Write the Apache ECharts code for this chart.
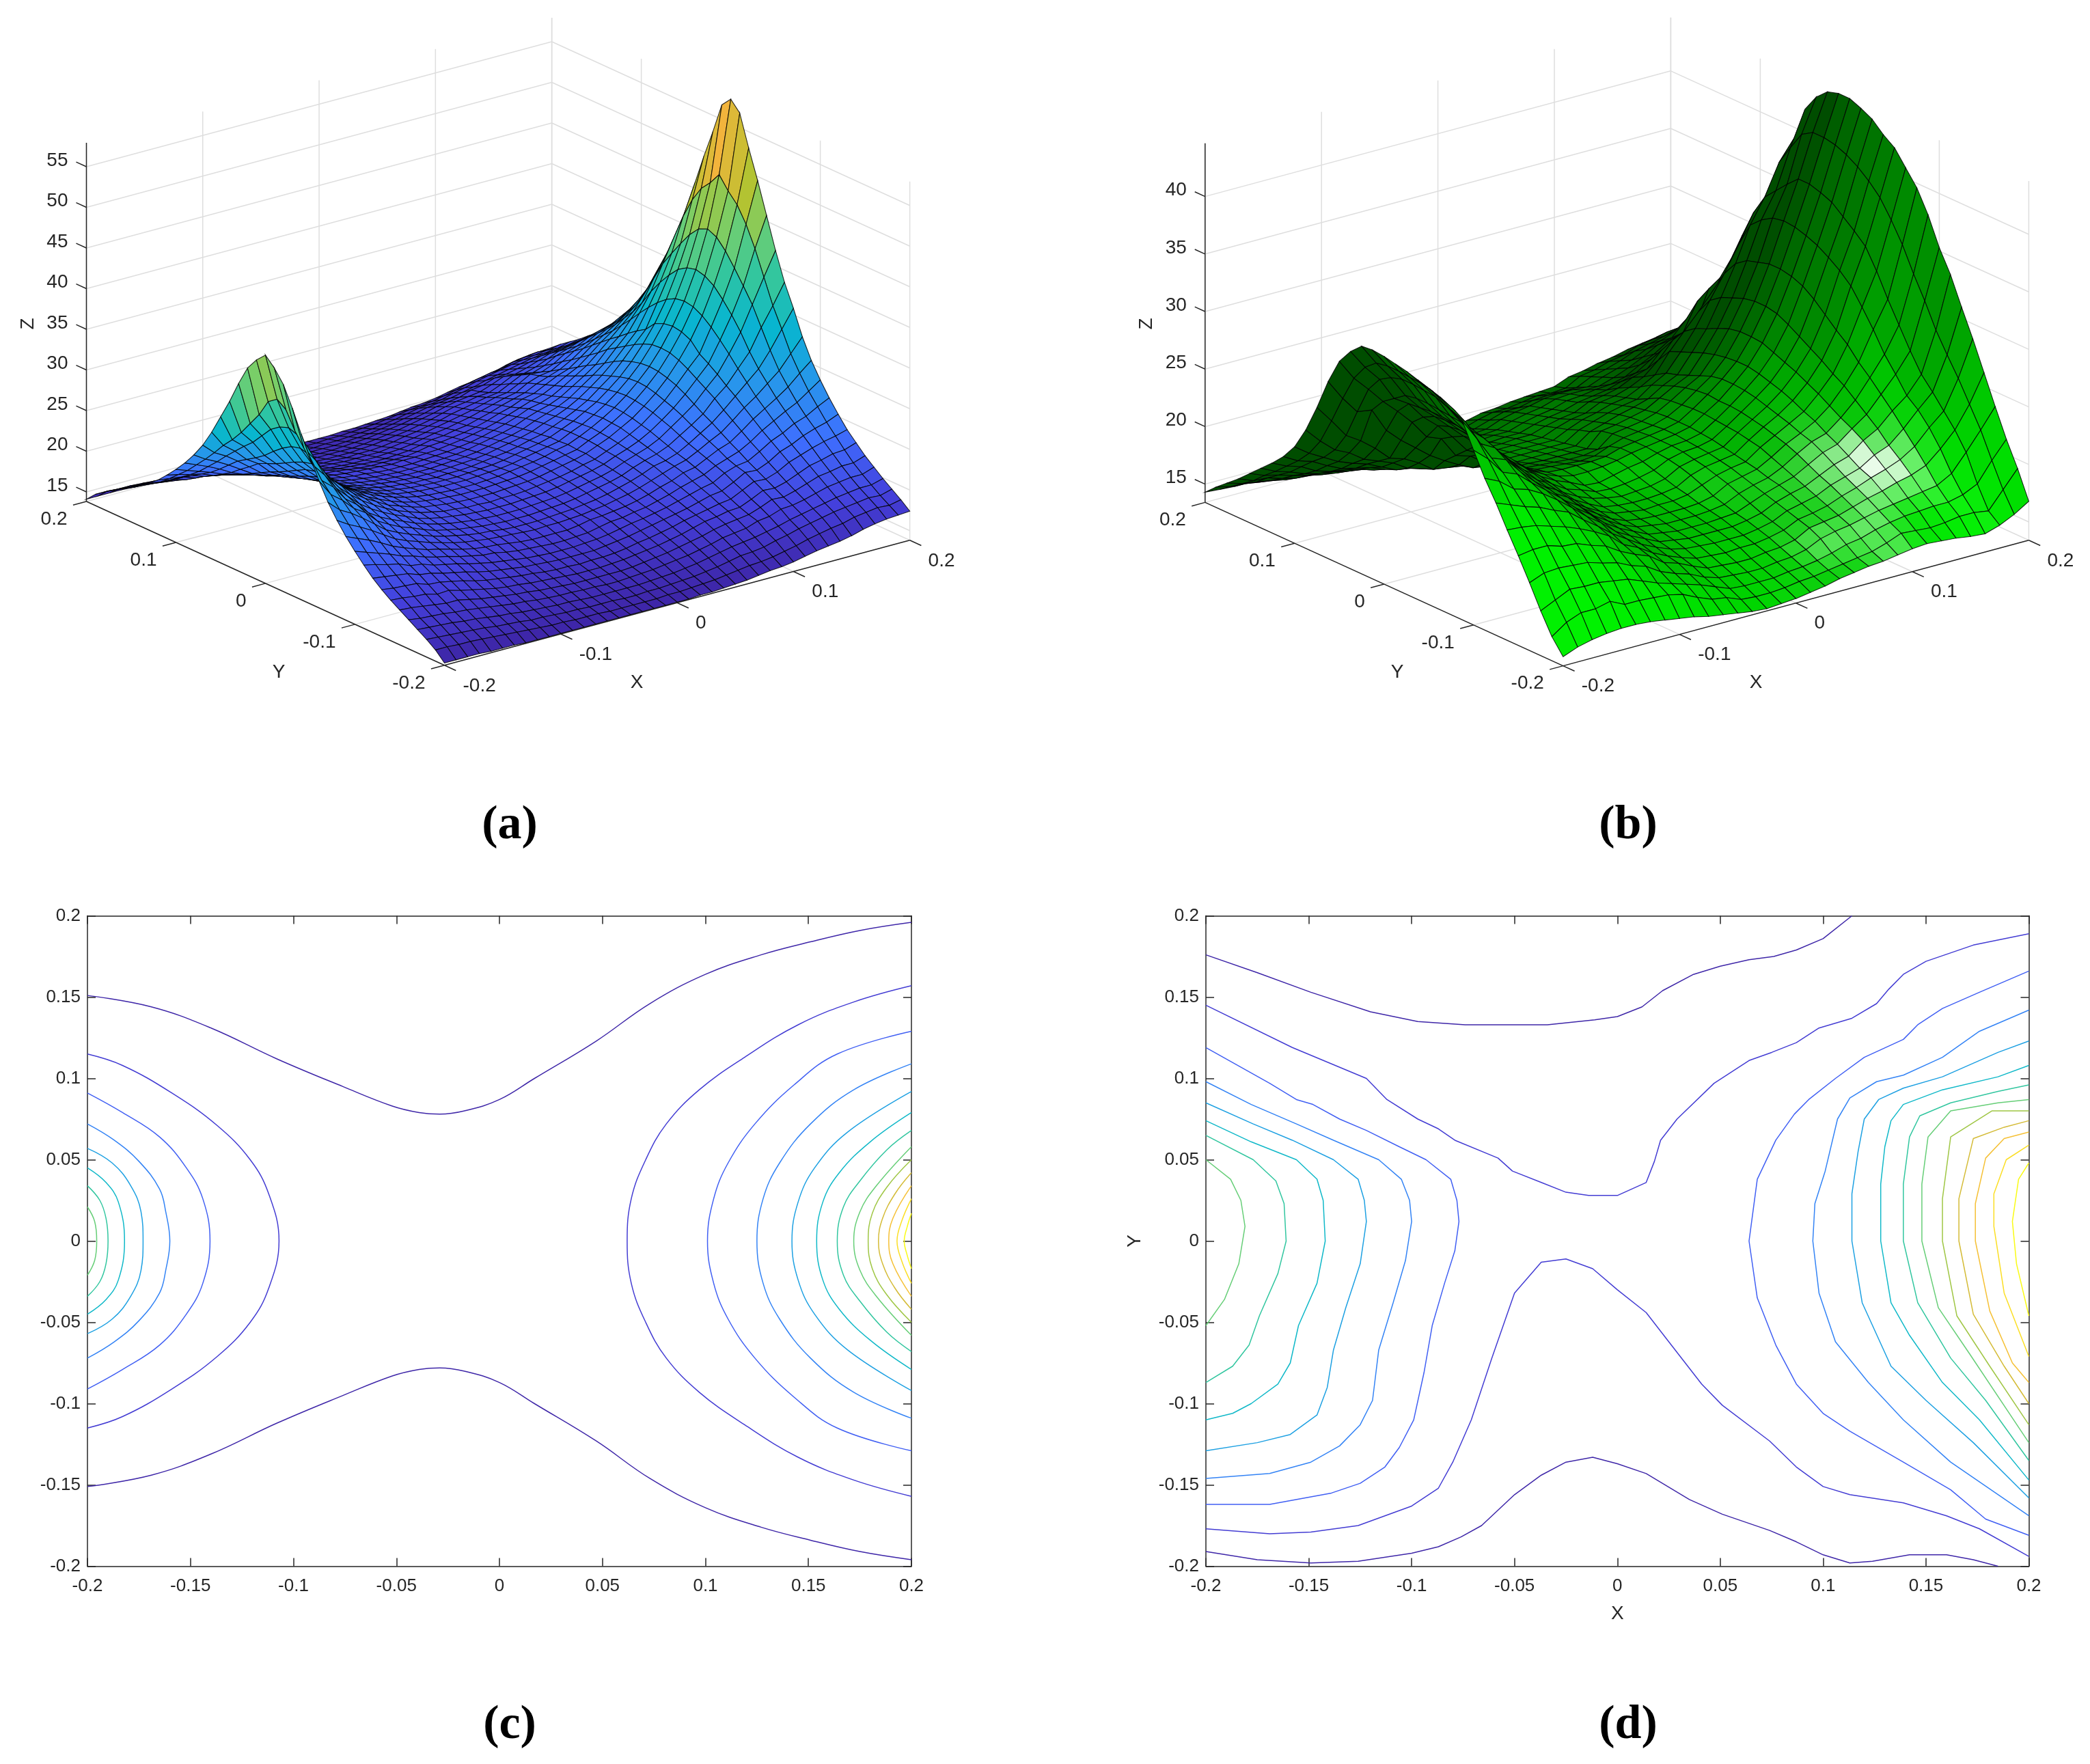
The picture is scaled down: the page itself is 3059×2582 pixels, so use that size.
<!DOCTYPE html>
<html>
<head>
<meta charset="utf-8">
<title>surface and contour panels</title>
<script src="https://cdn.jsdelivr.net/npm/echarts@6/dist/echarts.min.js"></script>
<style>
  html, body { margin: 0; background: #fff; }
  #chart { width: 3059px; height: 2582px; }
</style>
</head>
<body>
<div id="chart"></div>
<script>
// ticks
const meshTicks = [-0.2, -0.1, 0, 0.1, 0.2];
const zTicksA = [15, 20, 25, 30, 35, 40, 45, 50, 55];
const zTicksB = [15, 20, 25, 30, 35, 40];
const planTicks = [-0.2, -0.15, -0.1, -0.05, 0, 0.05, 0.1, 0.15, 0.2];

// panel (a): height read per X column (-0.2 .. 0.2, step 0.01), for |Y| = 0 .. 0.2 step 0.01
const surfaceA = [
  [41.9,40.8,39.3,36.9,34.2,31.8,29.4,27.3,25.6,24.1,22.8,21.6,20.5,19.6,18.8,18.1,17.4,16.7,16,15.2,14.1],
  [36.1,35.3,33.2,31.6,30,28.6,27.4,26,24.7,23.5,22.3,21.3,20.3,19.4,18.7,18,17.2,16.6,15.9,15.2,14.1],
  [32.2,31.8,31,29.7,28.4,27.4,26.3,25.2,24,22.9,21.8,20.9,20.1,19.3,18.5,17.8,17.1,16.5,15.8,15.1,14.1],
  [29.3,29,28.3,27.4,26.4,25.6,24.9,24.2,23.2,22.2,21.3,20.6,19.9,19.2,18.4,17.6,17,16.4,15.7,15.1,14.1],
  [27,26.7,26.2,25.6,25,24.5,24,23.1,22.3,21.4,20.7,20,19.4,18.7,18,17.4,16.8,16.2,15.6,15,14],
  [25.4,25.2,24.9,24.3,23.7,23.1,22.6,22,21.4,20.8,20.3,19.8,19.2,18.6,18.1,17.4,16.7,16.1,15.5,14.9,14],
  [24,23.9,23.6,23.2,22.7,22.2,21.8,21.3,20.8,20.3,19.8,19.3,18.8,18.3,17.7,17.1,16.5,15.9,15.3,14.8,14],
  [22.9,22.8,22.6,22.3,21.9,21.5,21.1,20.7,20.3,19.8,19.4,19,18.5,18,17.4,16.8,16.3,15.7,15.2,14.7,13.9],
  [22,21.9,21.8,21.5,21.2,20.9,20.6,20.2,19.8,19.5,19.1,18.7,18.2,17.6,17.1,16.6,16.1,15.6,15.1,14.6,13.9],
  [21.3,21.2,21,20.8,20.6,20.3,20,19.7,19.4,19.1,18.7,18.3,17.8,17.3,16.8,16.4,15.9,15.4,14.9,14.5,13.9],
  [20.7,20.6,20.5,20.3,20,19.8,19.5,19.3,19,18.7,18.4,18,17.5,17.1,16.6,16.2,15.8,15.3,14.9,14.4,13.9],
  [20.2,20.1,20,19.8,19.6,19.4,19.2,19,18.7,18.4,18.1,17.7,17.3,16.9,16.5,16.1,15.6,15.2,14.8,14.4,13.9],
  [19.8,19.7,19.6,19.5,19.3,19.1,18.9,18.7,18.5,18.2,18,17.5,17.1,16.7,16.3,15.9,15.5,15.1,14.7,14.3,13.9],
  [19.5,19.5,19.4,19.2,19.1,18.9,18.7,18.5,18.3,18.1,17.7,17.3,16.9,16.6,16.2,15.8,15.4,15.1,14.7,14.3,13.9],
  [19.3,19.3,19.2,19.1,18.9,18.7,18.5,18.4,18.2,17.9,17.5,17.1,16.8,16.4,16.1,15.7,15.4,15,14.6,14.3,13.9],
  [19.2,19.2,19.1,18.9,18.8,18.6,18.4,18.2,18.1,17.7,17.4,17,16.7,16.3,16,15.6,15.3,14.9,14.6,14.2,13.9],
  [19.1,19.1,19,18.9,18.7,18.5,18.3,18.1,18,17.6,17.3,16.9,16.6,16.3,15.9,15.6,15.3,14.9,14.6,14.2,13.9],
  [19.1,19.1,19,18.8,18.7,18.5,18.3,18.1,17.9,17.6,17.2,16.9,16.6,16.2,15.9,15.6,15.2,14.9,14.5,14.2,13.9],
  [19.1,19.1,19,18.9,18.7,18.5,18.3,18.1,18,17.6,17.2,16.9,16.6,16.3,15.9,15.6,15.2,14.9,14.5,14.2,13.9],
  [19.2,19.2,19.1,18.9,18.8,18.6,18.4,18.2,18,17.6,17.3,17,16.6,16.3,16,15.6,15.3,14.9,14.6,14.2,13.9],
  [19.3,19.3,19.2,19,18.9,18.7,18.5,18.3,18.1,17.8,17.4,17.1,16.8,16.4,16.1,15.7,15.4,15,14.6,14.3,13.9],
  [19.5,19.4,19.3,19.2,19,18.8,18.6,18.4,18.2,18.1,17.7,17.3,17,16.6,16.3,15.9,15.5,15.1,14.7,14.3,13.9],
  [19.7,19.6,19.5,19.4,19.2,19,18.8,18.6,18.4,18.2,18,17.6,17.2,16.9,16.5,16.1,15.7,15.2,14.8,14.4,14],
  [19.9,19.9,19.8,19.6,19.5,19.3,19.1,18.8,18.6,18.4,18.1,17.9,17.5,17.1,16.7,16.3,15.9,15.4,14.9,14.5,14],
  [20.2,20.2,20.1,19.9,19.8,19.6,19.4,19.1,18.9,18.6,18.4,18.1,17.8,17.4,17,16.6,16.1,15.6,15.1,14.6,14.1],
  [20.6,20.5,20.4,20.3,20.1,19.9,19.7,19.5,19.2,18.9,18.6,18.4,18.1,17.7,17.3,16.9,16.4,15.9,15.3,14.8,14.2],
  [20.9,20.8,20.8,20.6,20.5,20.3,20.1,19.9,19.6,19.3,19,18.7,18.4,18.1,17.7,17.2,16.7,16.2,15.6,15,14.3],
  [21.5,21.5,21.4,21.2,21.1,20.9,20.7,20.4,20.1,19.8,19.4,19.1,18.7,18.4,18.1,17.6,17.1,16.5,15.9,15.2,14.5],
  [22.2,22.1,22,21.8,21.6,21.4,21.2,21,20.6,20.2,19.9,19.5,19.1,18.7,18.3,17.9,17.3,16.7,16,15.3,14.7],
  [23,22.9,22.8,22.5,22.2,21.9,21.6,21.3,21.1,20.8,20.3,19.9,19.5,19,18.6,18.1,17.5,16.9,16.2,15.5,14.8],
  [23.9,23.8,23.6,23.3,23,22.6,22.2,21.8,21.5,21.1,20.7,20.2,19.7,19.2,18.7,18.3,18,17.2,16.6,15.8,15],
  [25,24.9,24.7,24.4,24,23.6,23.1,22.6,22.2,21.8,21.4,21,20.4,19.9,19.3,18.8,18.2,17.5,16.9,16.1,15.3],
  [26.3,26.2,25.9,25.5,25.1,24.6,24,23.5,23,22.5,21.9,21.5,21.2,20.6,20,19.4,18.7,17.9,17.3,16.5,15.6],
  [27.8,27.7,27.4,27,26.4,25.7,25,24.4,23.7,23,22.4,21.7,21.1,20.5,19.9,19.3,18.8,18.2,17.6,16.8,15.8],
  [29.7,29.6,29.2,28.6,27.9,27.2,26.5,25.6,24.8,24,23.2,22.5,21.7,21,20.3,19.7,19.1,18.5,17.9,17.1,16],
  [32,31.8,31.3,30.1,29.4,28.6,27.7,26.9,26,25.1,24.2,23.4,22.6,21.8,20.9,20.2,19.5,18.8,18.2,17.3,16.3],
  [34.7,34.5,33.9,33,31.9,30.7,29.4,28.2,27,26,25,24,23.1,22.3,21.5,20.7,19.9,19.1,18.4,17.7,16.7],
  [38.2,37.9,37.2,36,34.6,33,31.1,29.5,28.2,26.9,25.8,24.8,23.8,22.8,21.8,20.9,20.1,19.3,18.6,17.9,17],
  [42.8,42.3,41.1,39.5,37.8,36,33.7,31.4,29.4,27.9,26.5,25.3,24.3,23.2,22.2,21.2,20.3,19.5,18.8,18.1,17.2],
  [49.1,47.6,46.4,44.5,42,39,36,33.6,31.1,29.2,27.5,26.1,24.7,23.5,22.3,21.2,20.3,19.5,18.7,18,17.3],
  [58,56.8,53,49.5,45.7,41.9,38.5,35.8,32.8,30.4,28.5,26.8,25.3,23.9,22.8,21.7,20.8,19.9,19.1,18.3,17.4]
];

// panel (b): height per X column (-0.2 .. 0.2, step 0.0125), Y from -0.2 to 0.2 step 0.0125
const surfaceB = [
  [14.2,15.5,17.3,19.3,21.2,23,24.9,26.6,28.6,30.7,31.2,31.9,32.2,32.5,32.8,33,33.2,33.3,33.2,32.3,31,28.8,26.1,23.7,21.8,20.5,19.5,18.6,17.7,16.8,16,15.2,14.3],
  [14.7,16.4,17.9,19.8,21.4,22.9,24.4,26,27.5,28.8,29.8,30.4,30.8,31.2,31.4,31.5,31.6,31.6,31.4,30.6,29.2,27,24.6,22.4,20.9,19.8,18.9,18,17.2,16.3,15.6,14.9,14.2],
  [15,16.9,18.5,19.9,21.4,22.7,23.9,25,26,26.8,27.6,28.4,29,29.5,29.9,30,30.1,30.1,29.8,29.2,27.9,25.5,23,21.3,20.2,19.4,18.5,17.6,16.9,16.2,15.4,14.8,14.1],
  [15.2,16.9,18.4,19.8,21,22.3,23.5,24.6,25.5,26.3,26.9,27.3,27.6,27.8,27.9,28,28.1,28.1,27.9,27.2,26.5,25.3,22.2,20.7,19.5,18.7,17.8,17.1,16.5,15.8,15.2,14.6,14.1],
  [15.3,17.2,18.4,19.7,20.9,21.9,22.9,23.9,24.4,24.9,25.4,25.6,25.8,26.1,26.3,26.5,26.6,26.6,26.5,26.4,25.3,23.2,21.2,19.8,19,18.1,17.4,16.8,16.2,15.5,14.9,14.4,14],
  [15.3,16.6,18.2,19.3,20.4,21.4,22.4,23,23.4,23.7,24.1,24.5,24.8,25,25.2,25.4,25.5,25.5,25.4,24.9,24,22,20,19.3,18.6,17.8,17.2,16.6,15.9,15.4,14.9,14.4,14],
  [15.2,16.6,18,19,20,20.8,21.4,22,22.4,22.7,23,23.3,23.5,23.7,23.9,24.1,24.3,24.3,24.2,23.8,22.4,21,19.6,18.8,18,17.5,16.9,16.3,15.7,15.3,14.8,14.4,14],
  [15,16.5,17.5,18.4,19.2,20.1,20.5,20.9,21.2,21.4,21.6,21.8,22,22.4,22.7,23,23.2,23.2,23,22.5,21.9,20,18.9,18,17.4,17,16.5,16.1,15.6,15.1,14.7,14.3,13.9],
  [14.8,16.4,17,18,18.6,19,19.5,20,20.3,20.6,20.9,21.1,21.3,21.6,21.8,22,22.1,22.1,21.9,21,20.1,19.2,18,17.6,17.2,16.9,16.4,15.9,15.4,15,14.6,14.2,13.9],
  [14.6,16.1,16.6,17.2,18.1,18.4,18.7,18.9,19.2,19.4,19.6,19.7,19.9,20.1,20.5,20.9,21,21,20.8,20.3,19.7,18.5,17.8,17.4,17,16.7,16.3,15.9,15.4,15,14.6,14.2,13.9],
  [14.3,15.5,16.2,16.7,17.2,17.6,17.9,18.2,18.4,18.6,18.8,18.9,19.1,19.3,19.6,19.8,19.9,19.9,19.7,19.3,18.8,17.9,17.6,17.3,17,16.7,16.3,15.9,15.4,15,14.6,14.2,13.8],
  [14.1,15,15.8,16.3,16.8,17,17.3,17.6,17.8,17.9,18,18.2,18.4,18.6,18.8,19.1,19.2,19.1,18.9,18.5,18.1,17.7,17.4,17.2,16.9,16.6,16.3,15.9,15.4,15,14.6,14.2,13.8],
  [13.9,14.8,15.3,15.7,16.2,16.5,16.8,17,17.2,17.4,17.5,17.7,17.8,18.1,18.4,18.6,18.7,18.6,18.4,18.1,17.7,17.5,17.2,17,16.8,16.6,16.2,15.8,15.4,15,14.6,14.2,13.8],
  [13.7,14.3,14.8,15.3,15.7,16.1,16.5,16.8,17,17.2,17.3,17.5,17.6,17.8,17.9,18,18.4,18.5,18.3,18,17.7,17.4,17.2,17,16.8,16.5,16.2,15.8,15.4,15,14.6,14.2,13.8],
  [13.6,14.2,14.7,15.2,15.6,16,16.4,16.6,16.8,17,17.2,17.3,17.5,17.6,17.8,17.9,18.4,18.5,18.2,17.9,17.6,17.4,17.2,17,16.8,16.5,16.2,15.8,15.4,15,14.6,14.2,13.8],
  [13.7,14.2,14.7,15.1,15.5,15.9,16.3,16.6,16.8,17,17.2,17.4,17.5,17.7,17.9,18.2,18.5,18.5,18.1,17.8,17.6,17.4,17.2,17,16.8,16.5,16.2,15.9,15.5,15.1,14.7,14.3,13.9],
  [13.8,14.3,14.7,15.1,15.5,16,16.3,16.6,16.8,17,17.2,17.4,17.6,17.8,18.1,18.5,18.7,18.6,18.2,17.8,17.6,17.4,17.2,17,16.8,16.6,16.3,16,15.6,15.2,14.8,14.4,14],
  [14,14.5,14.9,15.3,15.7,16,16.3,16.6,16.9,17.1,17.3,17.6,17.8,18.1,18.4,18.7,19,19,18.7,18,17.6,17.4,17.2,17,16.8,16.6,16.3,16,15.7,15.3,14.9,14.5,14.1],
  [14.2,14.6,15,15.4,15.8,16.2,16.5,16.8,17,17.3,17.6,18.1,18.5,18.8,19,19.1,19.2,19.2,19.1,19,18.8,18.3,18,17.6,17.3,17,16.7,16.4,16.1,15.8,15.3,14.9,14.4],
  [14.5,14.8,15.2,15.7,16.1,16.5,16.8,17.1,17.5,17.9,18.3,18.6,18.9,19.1,19.3,19.4,19.4,19.4,19.3,19.2,19,18.7,18.4,18.1,17.7,17.3,17,16.7,16.4,16.1,15.7,15.2,14.7],
  [14.7,15,15.5,16.3,16.8,17.1,17.4,17.7,18,18.3,18.6,18.9,19.1,19.3,19.4,19.5,19.6,19.6,19.5,19.4,19.3,19.1,18.8,18.4,17.9,17.5,17.2,16.9,16.6,16.3,15.7,15.2,14.8],
  [14.9,15.2,15.9,16.6,17,17.3,17.7,18.1,18.4,18.6,18.9,19.1,19.3,19.5,19.7,19.8,19.9,19.9,19.9,19.8,19.6,19.4,19.1,18.8,18.5,18.1,17.6,17.3,17,16.6,16,15.4,15],
  [15,15.4,16.1,16.8,17.2,17.6,18,18.4,18.8,19.2,19.6,20,20.2,20.4,20.5,20.6,20.7,20.7,20.6,20.5,20.3,19.8,19.3,19,18.7,18.3,17.8,17.4,17.1,16.7,16.1,15.6,15.1],
  [15.2,15.8,16.5,17.1,17.6,18.1,18.6,19,19.5,20,20.4,20.7,21,21.2,21.4,21.5,21.5,21.6,21.5,21.3,21,20.6,20.2,19.6,19.1,18.6,18,17.6,17.1,16.7,16.1,15.5,15.2],
  [15.4,16.3,16.8,17.4,18,18.5,19,19.6,20.2,20.7,21,21.4,21.7,22,22.3,22.5,22.6,22.6,22.4,22,21.6,21.2,20.9,20.3,19.7,19.2,18.4,17.7,17.1,16.6,16.1,15.6,15.3],
  [15.5,16.2,17,17.6,18.3,19,19.4,20,20.6,21.1,21.7,22.1,22.6,23,23.3,23.6,23.8,23.8,23.7,23.5,23.2,22.8,22.4,22,20.8,19.6,18.8,18,17.5,17.1,16.7,16.3,15.8],
  [15.4,16.1,17.1,17.8,18.7,19.4,20.2,21,21.6,22.1,22.7,23.3,23.8,24.3,24.7,25.1,25.5,25.6,25.6,25.4,25,24.5,24.1,23.4,22.2,20.9,19.6,18.7,18,17.5,17,16.5,16],
  [15.3,16.2,17.2,18,19,19.9,20.7,21.7,22.5,23.3,24.1,24.7,25.4,26,26.6,27.2,27.7,27.9,27.9,27.7,27.3,26.9,26.2,24.8,22.6,21,19.9,19.3,18.6,17.9,17.4,16.9,16.3],
  [15.1,16.4,17.2,18.2,19.5,20.7,21.8,22.9,23.9,24.9,25.8,26.9,27.7,28.6,29.5,30.2,30.6,30.8,30.8,30.5,30.2,29.5,28.2,26.3,23.7,21.8,21,20.1,19.3,18.5,17.9,17.1,16.5],
  [15,16.4,17.5,18.9,20.6,22,23.1,23.9,25.3,26.6,28.3,29.8,31.2,32.1,32.8,33.4,33.8,34.1,34.2,34,33.4,32.5,30.4,27.2,24.6,22.6,21.4,20.5,19.6,18.9,18.2,17.6,16.8],
  [15.4,16.2,18.1,20.4,21.9,23.1,24.3,25.4,27,28.8,30.6,32.6,34.3,35.2,36,36.8,37.2,37.5,37.5,36.6,35.6,34.6,32.8,30.4,27.9,25.8,24.4,22.9,20.9,19.4,18.5,17.8,17],
  [16,17.7,19.8,22,23.8,25.6,27.2,28.9,31,32.9,35,36.7,38.2,39.2,40,40.6,41,41.2,41.2,40.6,39,37.3,33.9,30.5,27.9,25.6,24,22.7,21,19.8,18.9,18.1,17.2],
  [16.8,19.2,21.3,23.7,26.2,28.7,31,33.4,35.3,37.7,39.6,40.9,42.2,42.9,43.8,44.3,44.7,44.7,44.4,43.5,42,39,34.8,30.5,27.7,25.3,23.7,22.5,21.2,20.2,19.2,18,17.3]
];

// panel (c): contours read from the upper half, the lower half is the same picture mirrored in y
const c18 = [[-.2,.151],[-.169,.144],[-.14,.131],[-.108,.112],[-.076,.095],[-.052,.083],[-.039,.079],[-.029,.078],[-.017,.08],[0,.087],[.017,.1],[.047,.123],[.073,.146],[.1,.164],[.127,.176],[.151,.184],[.175,.191],[.2,.196]];
const c21L = [[-.2,.115],[-.183,.108],[-.159,.091],[-.137,.071],[-.121,.05],[-.112,.029],[-.107,0]];
const c24L = [[-.2,.091],[-.183,.079],[-.165,.064],[-.152,.045],[-.144,.026],[-.1405,0]];
const c27L = [[-.2,.072],[-.187,.062],[-.175,.049],[-.165,.032],[-.162,.018],[-.16,0]];
const c30L = [[-.2,.057],[-.188,.048],[-.179,.034],[-.174,.018],[-.173,0]];
const c33L = [[-.2,.045],[-.191,.036],[-.185,.024],[-.182,0]];
const c36L = [[-.2,.034],[-.194,.025],[-.191,.014],[-.19,0]];
const c39L = [[-.2,.021],[-.1965,.012],[-.1955,0]];
const c21R = [[.2,.157],[.172,.147],[.145,.133],[.119,.113],[.097,.093],[.081,.072],[.071,.05],[.064,.026],[.062,0]];
const c24R = [[.2,.129],[.164,.115],[.143,.096],[.124,.072],[.111,.048],[.104,.026],[.101,0]];
const c27R = [[.2,.109],[.172,.093],[.151,.072],[.136,.048],[.128,.026],[.125,0]];
const c30R = [[.2,.092],[.169,.067],[.153,.045],[.145,.024],[.142,0]];
const c33R = [[.2,.079],[.18,.061],[.165,.042],[.157,.024],[.154,0]];
const c36R = [[.2,.068],[.188,.056],[.175,.037],[.167,.021],[.164,0]];
const c39R = [[.2,.058],[.183,.034],[.175,.018],[.172,0]];
const c42R = [[.2,.05],[.188,.033],[.181,.017],[.179,0]];
const c45R = [[.2,.042],[.192,.029],[.186,.014],[.184,0]];
const c48R = [[.2,.034],[.191,.014],[.189,0]];
const c51R = [[.2,.026],[.1955,.013],[.193,0]];
const c54R = [[.2,.017],[.198,.009],[.1965,0]];

// panel (d): contours
const d16Top = [[-.2,.176],[-.175,.165],[-.149,.153],[-.12,.141],[-.097,.135],[-.074,.133],[-.034,.133],[-.011,.136],[0,.138],[.012,.144],[.022,.154],[.037,.164],[.05,.169],[.064,.173],[.076,.175],[.087,.179],[.1,.186],[.114,.2]];
const d18Top = [[-.2,.145],[-.158,.119],[-.122,.1],[-.112,.087],[-.097,.075],[-.087,.069],[-.079,.062],[-.058,.051],[-.051,.043],[-.037,.036],[-.025,.03],[-.014,.028],[0,.028],[.014,.036],[.018,.049],[.021,.062],[.029,.075],[.047,.097],[.064,.111],[.075,.116],[.087,.122],[.098,.131],[.114,.137],[.126,.146],[.132,.155],[.139,.164],[.15,.172],[.173,.182],[.2,.189]];
const d16Bot = [[-.2,-.191],[-.175,-.196],[-.149,-.198],[-.126,-.197],[-.1,-.192],[-.087,-.188],[-.076,-.182],[-.066,-.175],[-.05,-.156],[-.037,-.144],[-.025,-.136],[-.012,-.133],[0,-.137],[.014,-.143],[.035,-.159],[.051,-.168],[.074,-.178],[.087,-.185],[.1,-.193],[.113,-.198],[.124,-.197],[.142,-.193],[.16,-.193],[.173,-.196],[.185,-.2]];
const d18Bot = [[-.2,-.177],[-.169,-.18],[-.149,-.179],[-.126,-.175],[-.1,-.163],[-.087,-.152],[-.08,-.136],[-.071,-.11],[-.061,-.072],[-.05,-.032],[-.037,-.013],[-.025,-.011],[-.012,-.017],[0,-.03],[.014,-.044],[.025,-.062],[.041,-.088],[.051,-.101],[.074,-.123],[.087,-.139],[.1,-.151],[.113,-.156],[.139,-.161],[.16,-.169],[.176,-.177],[.2,-.194]];
const d20R = [[.2,.166],[.176,.153],[.158,.143],[.146,.133],[.139,.124],[.12,.113],[.106,.1],[.093,.087],[.086,.078],[.077,.062],[.068,.038],[.064,0],[.068,-.035],[.077,-.064],[.087,-.088],[.1,-.106],[.113,-.117],[.139,-.136],[.162,-.153],[.179,-.171],[.2,-.181]];
const d22R = [[.2,.142],[.176,.129],[.158,.113],[.139,.102],[.126,.098],[.113,.088],[.107,.075],[.101,.043],[.096,.023],[.095,0],[.098,-.032],[.106,-.062],[.122,-.087],[.139,-.11],[.162,-.136],[.2,-.169]];
const d24R = [[.2,.123],[.185,.116],[.158,.101],[.139,.094],[.127,.087],[.12,.075],[.117,.055],[.114,.029],[.114,0],[.119,-.038],[.133,-.077],[.15,-.098],[.173,-.124],[.2,-.158]];
const d26R = [[.2,.108],[.185,.101],[.158,.093],[.139,.084],[.133,.074],[.13,.058],[.128,.035],[.128,0],[.133,-.038],[.142,-.058],[.158,-.087],[.176,-.11],[.2,-.147]];
const d28R = [[.2,.096],[.185,.092],[.162,.085],[.147,.077],[.142,.064],[.139,.035],[.139,0],[.146,-.038],[.162,-.072],[.179,-.098],[.2,-.135]];
const d30R = [[.2,.087],[.185,.085],[.162,.08],[.151,.064],[.148,.035],[.148,0],[.156,-.041],[.171,-.069],[.2,-.124]];
const d32R = [[.2,.08],[.182,.08],[.162,.064],[.158,.026],[.158,0],[.165,-.046],[.181,-.077],[.2,-.113]];
const d34R = [[.2,.074],[.188,.07],[.173,.063],[.166,.026],[.166,0],[.173,-.045],[.188,-.077],[.2,-.1]];
const d36R = [[.2,.067],[.188,.063],[.179,.051],[.174,.023],[.174,0],[.181,-.043],[.192,-.075],[.2,-.087]];
const d38R = [[.2,.059],[.189,.05],[.183,.029],[.183,.009],[.188,-.032],[.2,-.071]];
const d40R = [[.2,.048],[.195,.038],[.192,.012],[.194,-.014],[.2,-.046]];
const d20L = [[-.2,.119],[-.169,.097],[-.156,.087],[-.148,.084],[-.135,.075],[-.122,.068],[-.106,.058],[-.093,.05],[-.081,.038],[-.078,.025],[-.077,.012],[-.079,-.006],[-.084,-.026],[-.09,-.052],[-.094,-.081],[-.099,-.11],[-.106,-.127],[-.113,-.139],[-.125,-.149],[-.139,-.155],[-.169,-.162],[-.2,-.162]];
const d22L = [[-.2,.098],[-.178,.084],[-.156,.072],[-.138,.062],[-.116,.05],[-.105,.038],[-.101,.025],[-.1,.012],[-.103,-.012],[-.109,-.038],[-.116,-.067],[-.119,-.098],[-.125,-.113],[-.135,-.126],[-.149,-.136],[-.169,-.143],[-.2,-.146]];
const d24L = [[-.2,.085],[-.177,.072],[-.158,.062],[-.138,.05],[-.126,.038],[-.123,.025],[-.122,.012],[-.125,-.014],[-.132,-.041],[-.138,-.067],[-.141,-.09],[-.146,-.107],[-.159,-.119],[-.175,-.124],[-.2,-.129]];
const d26L = [[-.2,.074],[-.178,.061],[-.156,.05],[-.146,.038],[-.143,.025],[-.142,0],[-.146,-.026],[-.155,-.052],[-.159,-.075],[-.165,-.088],[-.178,-.1],[-.187,-.106],[-.2,-.11]];
const d28L = [[-.2,.065],[-.177,.05],[-.166,.037],[-.162,.023],[-.161,0],[-.165,-.02],[-.174,-.046],[-.179,-.064],[-.187,-.077],[-.2,-.087]];
const d30L = [[-.2,.05],[-.188,.038],[-.183,.025],[-.181,.009],[-.184,-.014],[-.191,-.036],[-.2,-.052]];

// 3d views: where the front corner sits and how one data unit lands on the page
const viewA = { corner: [650.5, 973.8], ex: [1702.8, -457.5], ey: [-1310, -599.5], zs: 11.9, zMin: 13.82, zMax: 57.94 };
const viewB = { corner: [2287.8, 974.6], ex: [1704, -459.5], ey: [-1310, -598], zs: 16.84, zMin: 13.41, zMax: 44.63 };

const project = (v, x, y, z) => [
  v.corner[0] + (x + 0.2) * v.ex[0] + (y + 0.2) * v.ey[0],
  v.corner[1] + (x + 0.2) * v.ex[1] + (y + 0.2) * v.ey[1] - (z - v.zMin) * v.zs
];

const parula = [[0,'#3e26a8'],[.1,'#4440dc'],[.2,'#3e6fff'],[.3,'#2796eb'],[.4,'#08b5d0'],[.5,'#31c69f'],[.6,'#71cf6f'],[.7,'#b6c22f'],[.8,'#f2b43c'],[.9,'#fbd827'],[1,'#f9fb15']];

function rampColor(ramp, t) {
  t = Math.max(0, Math.min(1, t));
  let k = 0;
  while (k < ramp.length - 2 && t > ramp[k + 1][0]) k++;
  const [t0, c0] = ramp[k], [t1, c1] = ramp[k + 1];
  const f = (t - t0) / (t1 - t0);
  const ch = (c, p) => parseInt(c.substr(p, 2), 16);
  const mix = p => Math.round(ch(c0, p) + (ch(c1, p) - ch(c0, p)) * f);
  return `rgb(${mix(1)},${mix(3)},${mix(5)})`;
}

// mirror the half table of panel (a) into full columns, Y from -0.2 to 0.2
const fullA = surfaceA.map(h => h.slice(1).reverse().concat(h));

// flat faces take the colour of their low-X, low-Y corner
function parulaCell(col, i, j) {
  return rampColor(parula, (col[i][j] - viewA.zMin) / (viewA.zMax - viewA.zMin));
}

// green surface with a light from the front and a highlight
function litCell(col, i, j) {
  const d = 0.4 / (col.length - 1);
  const last = col.length - 1;
  const i0 = Math.max(0, i - 1), i1 = Math.min(last, i + 2);
  const j0 = Math.max(0, j - 1), j1 = Math.min(last, j + 2);
  let dzdx = 0, dzdy = 0;
  for (let b = j0; b <= j1; b++) dzdx += (col[i1][b] - col[i0][b]) / ((i1 - i0) * d);
  for (let a = i0; a <= i1; a++) dzdy += (col[a][j1] - col[a][j0]) / ((j1 - j0) * d);
  dzdx /= j1 - j0 + 1;
  dzdy /= i1 - i0 + 1;
  const k = 0.7 / (viewB.zMax - viewB.zMin) * 0.4;
  const sx = dzdx * k, sy = dzdy * k;
  const len = Math.hypot(sx, sy, 1);
  const n = [-sx / len, -sy / len, 1 / len];
  const dot = (a, b) => a[0] * b[0] + a[1] * b[1] + a[2] * b[2];
  const diff = Math.max(0, dot(n, [-0.1, -0.75, 0.65]));
  const g = Math.max(0.3, 0.05 + 0.9 * diff);
  const spec = Math.pow(Math.max(0, dot(n, [-0.33, -0.45, 0.83])), 70) * 0.95;
  return `rgb(${Math.round(255 * spec)},${Math.round(255 * (g + (1 - g) * spec))},${Math.round(255 * spec)})`;
}

function surfaceSeries(v, col, paint) {
  const step = 0.4 / (col.length - 1);
  const cells = [];
  // back to front
  for (let i = col.length - 2; i >= 0; i--) {
    for (let j = col[i].length - 2; j >= 0; j--) {
      cells.push({ i, j, fill: paint(col, i, j) });
    }
  }
  return {
    type: 'custom',
    coordinateSystem: 'cartesian2d',
    xAxisIndex: 0, yAxisIndex: 0,
    silent: true, clip: false, z: 3, progressive: 0, animation: false,
    data: cells.map((c, n) => [n, 0]),
    renderItem: (params, api) => {
      const c = cells[params.dataIndex];
      const corners = [[c.i, c.j], [c.i + 1, c.j], [c.i + 1, c.j + 1], [c.i, c.j + 1]];
      return {
        type: 'polygon',
        shape: { points: corners.map(([a, b]) => api.coord(project(v, -0.2 + a * step, -0.2 + b * step, col[a][b]))) },
        style: { fill: c.fill, stroke: 'rgba(0,0,0,0.82)', lineWidth: 1.1 }
      };
    }
  };
}

function frameSeries(v, zTicks) {
  const segs = [];
  const grid = '#dedede', ink = '#262626';
  const add = (a, b, color) => segs.push({ a, b, color });
  zTicks.forEach(z => {
    add([-0.2, 0.2, z], [0.2, 0.2, z], grid);
    add([0.2, 0.2, z], [0.2, -0.2, z], grid);
  });
  meshTicks.forEach(t => {
    add([t, 0.2, v.zMin], [t, 0.2, v.zMax], grid);
    add([t, 0.2, v.zMin], [t, -0.2, v.zMin], grid);
    add([0.2, t, v.zMin], [0.2, t, v.zMax], grid);
    add([-0.2, t, v.zMin], [0.2, t, v.zMin], grid);
  });
  add([-0.2, 0.2, v.zMin], [-0.2, -0.2, v.zMin], ink);
  add([-0.2, -0.2, v.zMin], [0.2, -0.2, v.zMin], ink);
  add([-0.2, 0.2, v.zMin], [-0.2, 0.2, v.zMax], ink);
  meshTicks.forEach(t => {
    add([-0.2, t, v.zMin], [-0.2115, t, v.zMin], ink);
    add([t, -0.2, v.zMin], [t, -0.2128, v.zMin], ink);
  });
  zTicks.forEach(z => add([-0.2, 0.2, z], [-0.2, 0.2115, z], ink));
  return {
    type: 'custom',
    coordinateSystem: 'cartesian2d',
    xAxisIndex: 0, yAxisIndex: 0,
    silent: true, clip: false, z: 2, progressive: 0, animation: false,
    data: segs.map((s, n) => [n, 0]),
    renderItem: (params, api) => {
      const s = segs[params.dataIndex];
      const p = api.coord(project(v, ...s.a)), q = api.coord(project(v, ...s.b));
      return {
        type: 'line',
        shape: { x1: p[0], y1: p[1], x2: q[0], y2: q[1] },
        style: { stroke: s.color, lineWidth: 1.5, fill: null }
      };
    }
  };
}

function labelSeries(v, zTicks, names) {
  const items = [];
  meshTicks.forEach(t => {
    const py = project(v, -0.2, t, v.zMin), px = project(v, t, -0.2, v.zMin);
    items.push({ text: String(t), p: [py[0] - 28, py[1] + 26], align: 'right' });
    items.push({ text: String(t), p: [px[0] + 27, px[1] + 30], align: 'left' });
  });
  zTicks.forEach(z => {
    const p = project(v, -0.2, 0.2, z);
    items.push({ text: String(z), p: [p[0] - 27, p[1] - 9], align: 'right' });
  });
  names.forEach(n => items.push(n));
  return {
    type: 'custom',
    coordinateSystem: 'cartesian2d',
    xAxisIndex: 0, yAxisIndex: 0,
    silent: true, clip: false, z: 4, progressive: 0, animation: false,
    data: items.map((s, n) => [n, 0]),
    renderItem: (params, api) => {
      const s = items[params.dataIndex];
      const c = api.coord(s.p);
      return {
        type: 'text',
        x: c[0], y: c[1], rotation: s.rot || 0,
        style: {
          text: s.text, textAlign: s.align, textVerticalAlign: 'middle',
          fontFamily: 'Liberation Sans', fontSize: 28, fill: '#262626'
        }
      };
    }
  };
}

const mirrored = pts => pts.concat(pts.slice(0, -1).reverse().map(([x, y]) => [x, -y]));
const flipped = pts => pts.map(([x, y]) => [x, -y]);

const contourLine = (pts, t, axis, smooth) => ({
  type: 'line',
  xAxisIndex: axis, yAxisIndex: axis,
  data: pts,
  showSymbol: false, symbol: 'none', silent: true,
  smooth: smooth, animation: false,
  lineStyle: { color: rampColor(parula, t), width: 1.5 }
});

const cLines = [
  [c18, 18], [flipped(c18), 18],
  [mirrored(c21L), 21], [mirrored(c24L), 24], [mirrored(c27L), 27], [mirrored(c30L), 30], [mirrored(c33L), 33], [mirrored(c36L), 36], [mirrored(c39L), 39],
  [mirrored(c21R), 21], [mirrored(c24R), 24], [mirrored(c27R), 27], [mirrored(c30R), 30], [mirrored(c33R), 33], [mirrored(c36R), 36], [mirrored(c39R), 39],
  [mirrored(c42R), 42], [mirrored(c45R), 45], [mirrored(c48R), 48], [mirrored(c51R), 51], [mirrored(c54R), 54]
].map(([pts, lv]) => contourLine(pts, (lv - 18) / 36, 1, 0.4));

const dLines = [
  [d16Top, 16], [d16Bot, 16], [d18Top, 18], [d18Bot, 18],
  [d20R, 20], [d22R, 22], [d24R, 24], [d26R, 26], [d28R, 28], [d30R, 30], [d32R, 32], [d34R, 34], [d36R, 36], [d38R, 38], [d40R, 40],
  [d20L, 20], [d22L, 22], [d24L, 24], [d26L, 26], [d28L, 28], [d30L, 30]
].map(([pts, lv]) => contourLine(pts, (lv - 16) / 24, 3, false));

const fmtTick = v => String(+v.toFixed(2));

function planAxes(gridIndex, extra) {
  const line = { show: true, onZero: false, lineStyle: { color: '#262626', width: 1.5 } };
  const tick = { show: true, inside: true, length: 12, lineStyle: { color: '#262626', width: 1.5 } };
  const base = { type: 'value', gridIndex, min: -0.2, max: 0.2, interval: 0.05, axisLine: line, axisTick: tick, splitLine: { show: false } };
  const label = { show: true, fontFamily: 'Liberation Sans', fontSize: 26, color: '#262626', formatter: fmtTick, hideOverlap: false, showMinLabel: true, showMaxLabel: true };
  return {
    x: [
      Object.assign({}, base, { position: 'bottom', axisLabel: Object.assign({}, label, { margin: 16 }) }, extra.x || {}),
      Object.assign({}, base, { position: 'top', axisLabel: { show: false } })
    ],
    y: [
      Object.assign({}, base, { position: 'left', axisLabel: Object.assign({}, label, { margin: 10 }) }, extra.y || {}),
      Object.assign({}, base, { position: 'right', axisLabel: { show: false } })
    ]
  };
}

const axesC = planAxes(1, {});
const axesD = planAxes(2, {
  x: { name: 'X', nameLocation: 'middle', nameGap: 56, nameTextStyle: { fontFamily: 'Liberation Sans', fontSize: 28, color: '#262626' } },
  y: { name: 'Y', nameLocation: 'middle', nameGap: 90, nameRotate: 90, nameTextStyle: { fontFamily: 'Liberation Sans', fontSize: 28, color: '#262626' } }
});

const pageX = { type: 'value', gridIndex: 0, min: 0, max: 3059, show: false };
const pageY = { type: 'value', gridIndex: 0, min: 0, max: 1290, inverse: true, show: false };

const panelTag = (text, left, top) => ({
  text, left, top, textAlign: 'center', textVerticalAlign: 'middle',
  textStyle: { fontFamily: 'Liberation Serif', fontWeight: 'bold', fontSize: 70, color: '#000' }
});

const chart = echarts.init(document.getElementById('chart'), null, { renderer: 'canvas' });
chart.setOption({
  backgroundColor: '#fff',
  animation: false,
  title: [
    panelTag('(a)', 741, 1204), panelTag('(b)', 2378, 1204),
    panelTag('(c)', 741, 2521), panelTag('(d)', 2378, 2521)
  ],
  grid: [
    { left: 0, top: 0, width: 3059, height: 1290 },
    { left: 128, top: 1340.5, width: 1206, height: 952 },
    { left: 1765, top: 1340.5, width: 1204.5, height: 952 }
  ],
  xAxis: [pageX, ...axesC.x, ...axesD.x],
  yAxis: [pageY, ...axesC.y, ...axesD.y],
  series: [
    frameSeries(viewA, zTicksA),
    frameSeries(viewB, zTicksB),
    surfaceSeries(viewA, fullA, parulaCell),
    surfaceSeries(viewB, surfaceB, litCell),
    labelSeries(viewA, zTicksA, [
      { text: 'X', p: [932, 999], align: 'center' },
      { text: 'Y', p: [408, 984], align: 'center' },
      { text: 'Z', p: [41, 474], align: 'center', rot: Math.PI / 2 }
    ]),
    labelSeries(viewB, zTicksB, [
      { text: 'X', p: [2570, 999], align: 'center' },
      { text: 'Y', p: [2045, 984], align: 'center' },
      { text: 'Z', p: [1678, 474], align: 'center', rot: Math.PI / 2 }
    ]),
    ...cLines,
    ...dLines
  ]
});
</script>
</body>
</html>
